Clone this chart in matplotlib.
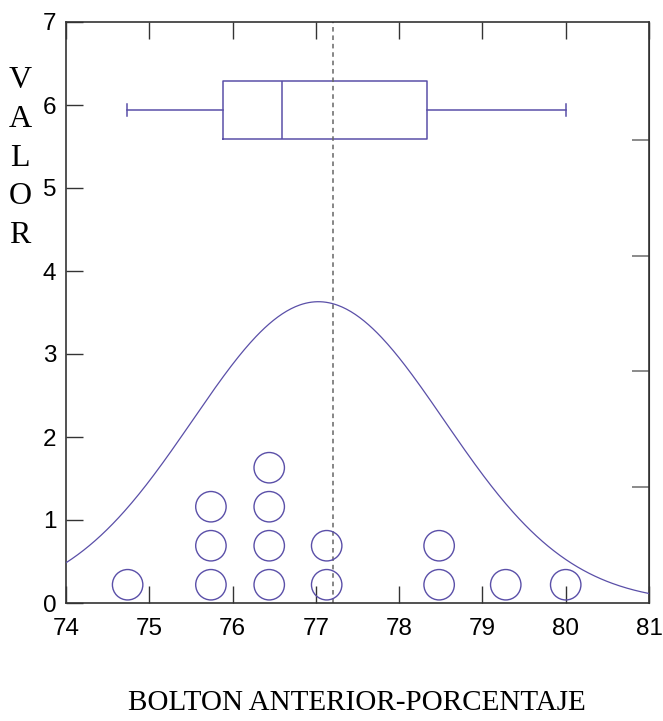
import numpy as np
import matplotlib
matplotlib.use("Agg")
import matplotlib.pyplot as plt

# Dot plot: bin centres and how many observations fall in each
dot_x = [74.74, 75.74, 76.44, 77.13, 78.48, 79.28, 80.0]
dot_counts = [1, 3, 4, 2, 2, 1, 1]

# Box plot summary (whisker low, Q1, median, Q3, whisker high)
box_stats = [74.73, 75.89, 76.59, 78.33, 80.0]
box_level = 5.94
mean_value = 77.2

# Fitted normal curve
curve_mu = 77.03
curve_sigma = 1.51
curve_peak = 3.63

x_ticks = [74, 75, 76, 77, 78, 79, 80, 81]
y_ticks = [0, 1, 2, 3, 4, 5, 6, 7]
right_ticks = [1.395, 2.79, 4.185, 5.58]

y_title = "VALOR"
x_title = "BOLTON ANTERIOR-PORCENTAJE"

purple = "#5a4fa8"
dark = "#333333"

W, H = 663, 721
fig = plt.figure(figsize=(W / 100, H / 100), dpi=100)
ax = fig.add_axes([66 / W, 1 - 603 / H, (649 - 66) / W, (603 - 22) / H])

# normal curve
xs = np.linspace(74, 81, 400)
ys = curve_peak * np.exp(-0.5 * ((xs - curve_mu) / curve_sigma) ** 2)
ax.plot(xs, ys, color=purple, lw=0.9, zorder=3)

# stacked dots
px, py = [], []
for x, n in zip(dot_x, dot_counts):
    for k in range(n):
        px.append(x)
        py.append(0.22 + 0.47 * k)
ax.scatter(px, py, s=480, facecolors="none", edgecolors=purple, linewidths=1.0, zorder=4)

# box plot
ax.bxp([{"whislo": box_stats[0], "q1": box_stats[1], "med": box_stats[2],
         "q3": box_stats[3], "whishi": box_stats[4], "fliers": []}],
       positions=[box_level], vert=False, widths=0.7, showfliers=False,
       boxprops=dict(color=purple, lw=1.1),
       medianprops=dict(color=purple, lw=1.1),
       whiskerprops=dict(color=purple, lw=1.1),
       capprops=dict(color=purple, lw=1.1), capwidths=0.14,
       manage_ticks=False)

# mean line
ax.axvline(mean_value, color="#666666", lw=1.1, ls=(0, (3, 2.5)), zorder=2)

ax.set_xlim(74, 81)
ax.set_ylim(0, 7)
ax.set_xticks(x_ticks)
ax.set_yticks(y_ticks)
ax.set_xticklabels([str(v) for v in x_ticks], fontfamily="Liberation Sans", fontsize=17.5)
ax.set_yticklabels([str(v) for v in y_ticks], fontfamily="Liberation Sans", fontsize=17.5)
ax.tick_params(axis="x", direction="in", length=12, width=1, color=dark, pad=11, top=True)
ax.tick_params(axis="y", direction="in", length=12, width=1, color=dark, pad=7, right=False)

sec = ax.secondary_yaxis("right")
sec.set_yticks(right_ticks)
sec.set_yticklabels([])
sec.tick_params(direction="in", length=12, width=1.2, color="#777777")
sec.spines["right"].set_color(dark)

for s in ax.spines.values():
    s.set_color(dark)
    s.set_linewidth(1.2)

# vertical axis title, one letter per line
for i, ch in enumerate(y_title):
    fig.text(20 / W, 1 - (81 + 38.5 * i) / H, ch, ha="center", va="center",
             fontfamily="Liberation Serif", fontsize=23)
fig.text(357 / W, 1 - 703 / H, x_title, ha="center", va="center",
         fontfamily="Liberation Serif", fontsize=21)

fig.savefig("out.png", dpi=100, facecolor="white")
